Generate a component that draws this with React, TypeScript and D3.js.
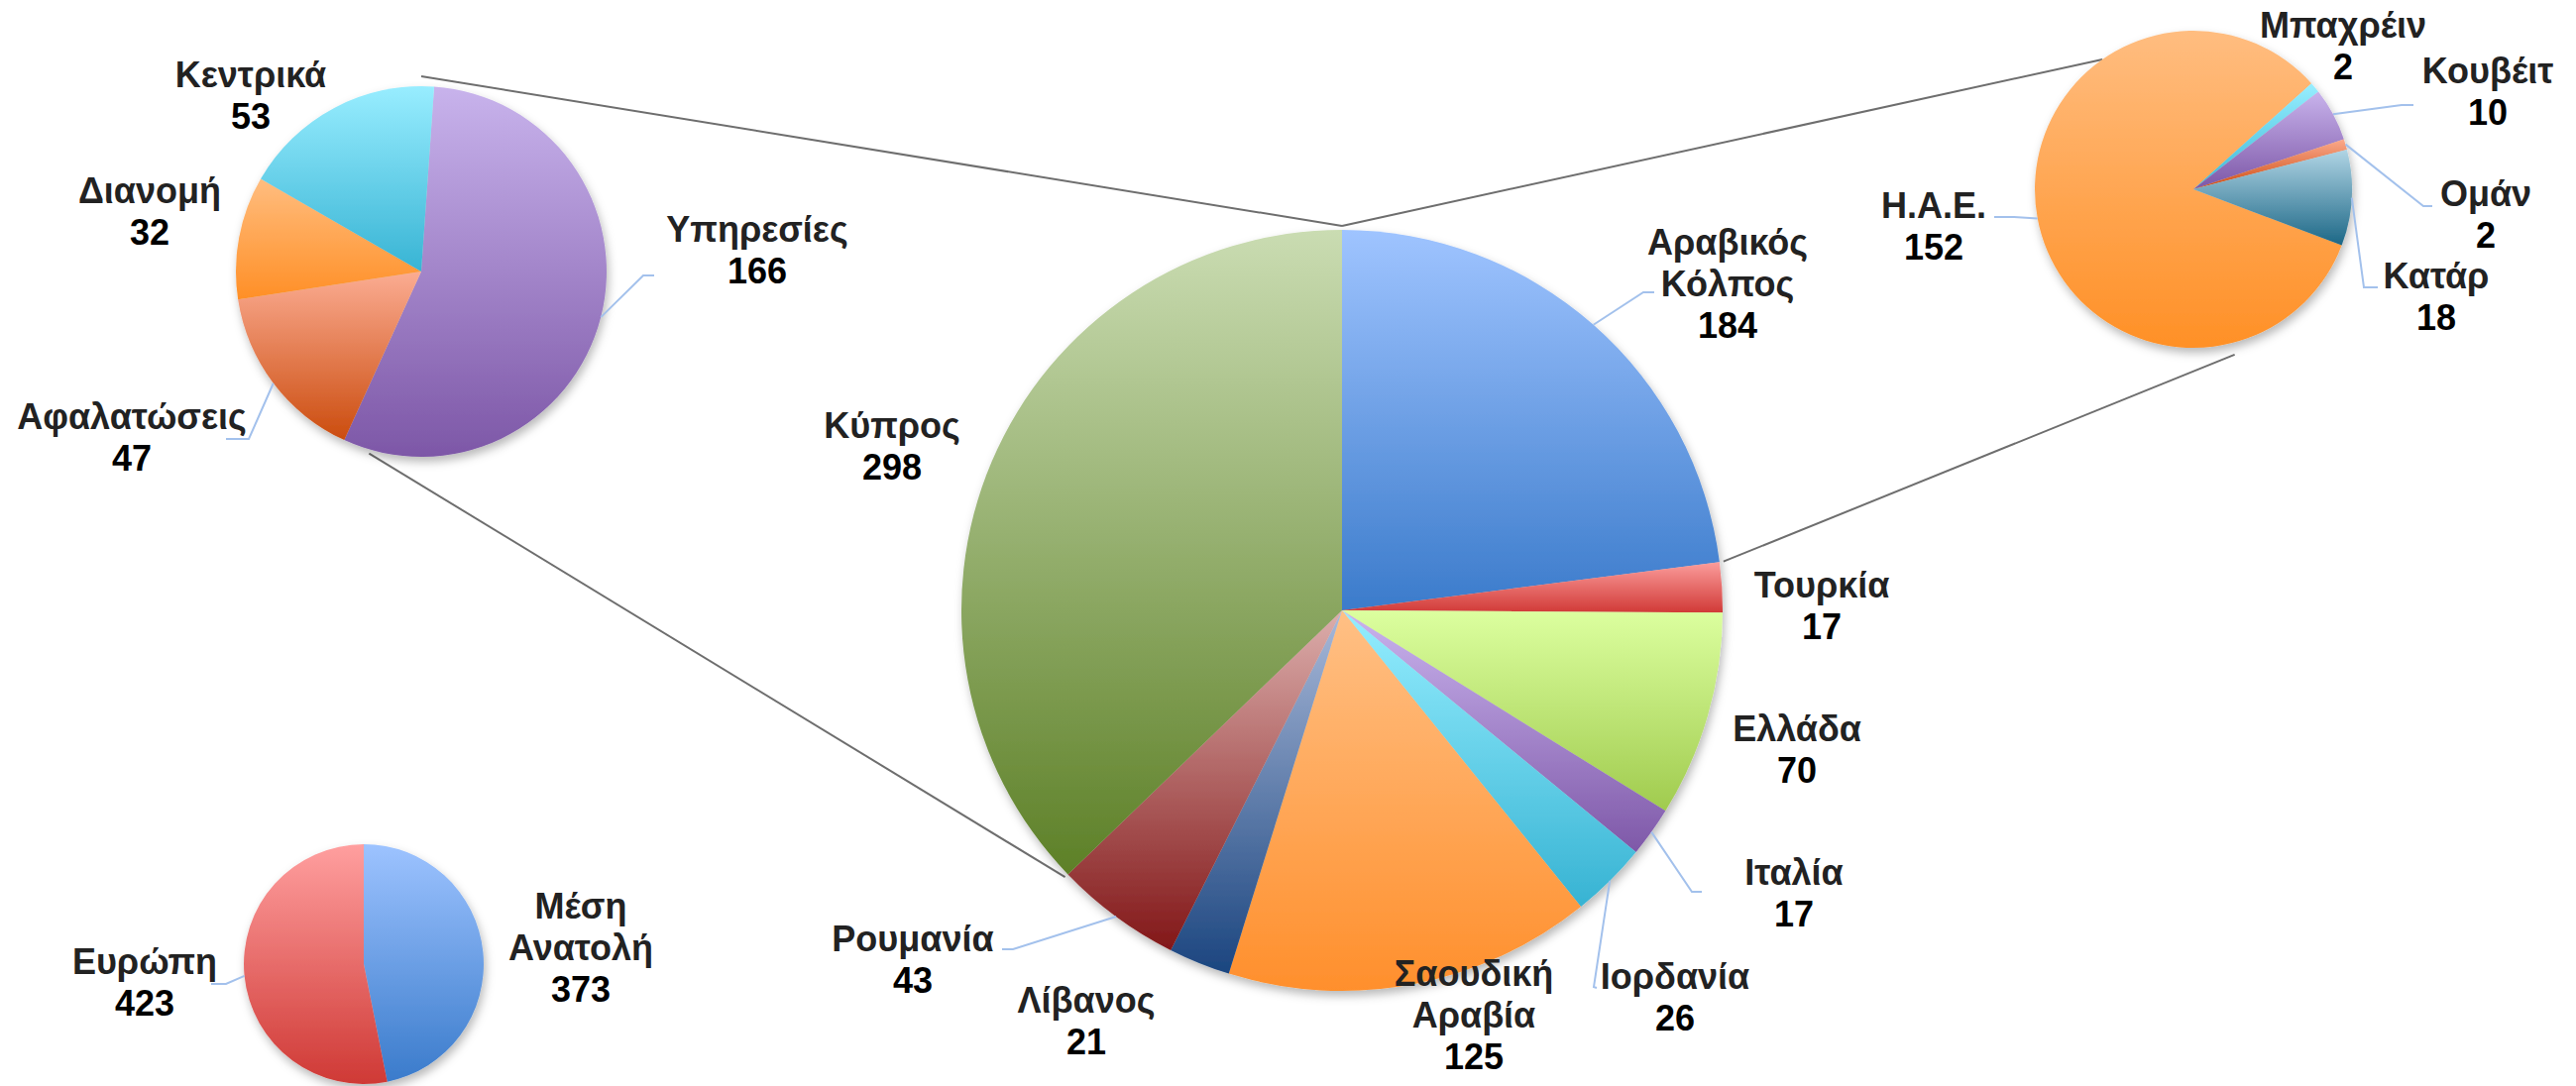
import React from 'react';
import * as d3 from 'd3';

// values
const mainCategories = ['Αραβικός Κόλπος', 'Τουρκία', 'Ελλάδα', 'Ιταλία', 'Ιορδανία', 'Σαουδική Αραβία', 'Λίβανος', 'Ρουμανία', 'Κύπρος'];
const mainValues = [184, 17, 70, 17, 26, 125, 21, 43, 298];

const cyprusCategories = ['Υπηρεσίες', 'Αφαλατώσεις', 'Διανομή', 'Κεντρικά'];
const cyprusValues = [166, 47, 32, 53];

const gulfCategories = ['Η.Α.Ε.', 'Μπαχρέιν', 'Κουβέιτ', 'Ομάν', 'Κατάρ'];
const gulfValues = [152, 2, 10, 2, 18];

const regionCategories = ['Μέση Ανατολή', 'Ευρώπη'];
const regionValues = [373, 423];

// gradient colours (top, bottom) per slice
const mainColors = [
  ['#9fc4ff', '#3b7bcb'], ['#fb9d9c', '#d13a37'], ['#dcff9f', '#a0cb4e'],
  ['#cab4ee', '#7e58a8'], ['#95eeff', '#37b3d3'], ['#ffc085', '#ff8f2c'],
  ['#a9b9d9', '#1b457f'], ['#dcaeac', '#821718'], ['#cadcb2', '#5d8027'],
];
const cyprusColors = [['#c8b3ec', '#7d57a7'], ['#fbac92', '#cb4c0e'], ['#ffbd7f', '#ff8f26'], ['#98edff', '#38b4d4']];
const gulfColors = [['#ffbd80', '#ff9026'], ['#98eeff', '#3ab8d6'], ['#c8b3ec', '#7d57a7'], ['#fba98b', '#cd4d14'], ['#b1d5e5', '#1c6786']];
const regionColors = [['#9dc3ff', '#3a7bcb'], ['#ff9f9f', '#cf3935']];

const deg = Math.PI / 180;

const pies = {
  main: { cx: 1354, cy: 616, r: 384, start: 0 },
  cyprus: { cx: 425, cy: 274, r: 187, start: 4 * deg },
  gulf: { cx: 2213, cy: 191, r: 160, start: 110.7 * deg },
  region: { cx: 367, cy: 973, r: 121, start: 0 },
};

// label placement: centre x, first baseline, optional leader elbow + end
const labelLayout = {
  'Αραβικός Κόλπος': { x: 1743, y: 257, leader: [[1658, 295], [1669, 295]] },
  'Τουρκία': { x: 1838, y: 603 },
  'Ελλάδα': { x: 1813, y: 748 },
  'Ιταλία': { x: 1810, y: 893, leader: [[1707, 900], [1717, 900]] },
  'Ιορδανία': { x: 1690, y: 998, leader: [[1608, 996], [1611, 997]] },
  'Σαουδική Αραβία': { x: 1487, y: 995 },
  'Λίβανος': { x: 1096, y: 1022 },
  'Ρουμανία': { x: 921, y: 960, leader: [[1022, 958], [1011, 958]] },
  'Κύπρος': { x: 900, y: 442 },
  'Υπηρεσίες': { x: 764, y: 244, leader: [[649, 278], [660, 278]] },
  'Αφαλατώσεις': { x: 133, y: 433, leader: [[251, 443], [228, 443]] },
  'Διανομή': { x: 151, y: 205 },
  'Κεντρικά': { x: 253, y: 88 },
  'Η.Α.Ε.': { x: 1951, y: 220, leader: [[2032, 219], [2012, 219]] },
  'Μπαχρέιν': { x: 2364, y: 38 },
  'Κουβέιτ': { x: 2510, y: 84, leader: [[2423, 106], [2435, 106]] },
  'Ομάν': { x: 2508, y: 208, leader: [[2445, 208], [2454, 208]] },
  'Κατάρ': { x: 2458, y: 291, leader: [[2385, 290], [2399, 290]] },
  'Μέση Ανατολή': { x: 586, y: 927 },
  'Ευρώπη': { x: 146, y: 983, leader: [[228, 993], [213, 993]] },
};

const lineHeight = 42;
const fontFamily = 'Arial, "Liberation Sans", Helvetica, sans-serif';

const polar = (p, r, a) => [p.cx + r * Math.sin(a), p.cy - r * Math.cos(a)];

function layoutPie(key, categories, values) {
  const p = pies[key];
  const pie = d3.pie<number>().sort(null).value(d => d)
    .startAngle(p.start).endAngle(p.start + 2 * Math.PI);
  return pie(values).map((a, i) => ({ ...a, name: categories[i] }));
}

function PieGroup({ id, arcs, colors }) {
  const p = pies[id];
  const arc = d3.arc().innerRadius(0).outerRadius(p.r);
  return (
    <g>
      <defs>
        {arcs.map((a, i) => (
          <linearGradient key={i} id={`${id}-g${i}`} x1="0" y1="0" x2="0" y2="1">
            <stop offset="0" stopColor={colors[i][0]} />
            <stop offset="1" stopColor={colors[i][1]} />
          </linearGradient>
        ))}
      </defs>
      <g transform={`translate(${p.cx},${p.cy})`} filter="url(#shadow)">
        {arcs.map((a, i) => (
          <path key={i} d={arc(a as any) as string} fill={`url(#${id}-g${i})`} />
        ))}
      </g>
    </g>
  );
}

function Labels({ id, arcs }) {
  const p = pies[id];
  return (
    <g>
      {arcs.map((a, i) => {
        const lay = labelLayout[a.name];
        const lines = a.name.split(' ');
        const mid = (a.startAngle + a.endAngle) / 2;
        let leader = null;
        if (lay.leader) {
          const s = polar(p, p.r, mid);
          const pts = [s, ...lay.leader];
          leader = (
            <polyline points={pts.map(q => q.join(',')).join(' ')} fill="none" stroke="#a3c1ec" strokeWidth={2} />
          );
        }
        return (
          <g key={i}>
            {leader}
            <text x={lay.x} y={lay.y} textAnchor="middle" fontFamily={fontFamily} fontWeight="bold" fontSize={36}>
              {lines.map((l, j) => (
                <tspan key={j} x={lay.x} y={lay.y + j * lineHeight} fill="#222">{l}</tspan>
              ))}
              <tspan x={lay.x} y={lay.y + lines.length * lineHeight} fill="#000">{a.data}</tspan>
            </text>
          </g>
        );
      })}
    </g>
  );
}

export default function App() {
  const mainArcs = layoutPie('main', mainCategories, mainValues);
  const cyprusArcs = layoutPie('cyprus', cyprusCategories, cyprusValues);
  const gulfArcs = layoutPie('gulf', gulfCategories, gulfValues);
  const regionArcs = layoutPie('region', regionCategories, regionValues);

  const M = pies.main;
  const gulfArc = mainArcs[0];
  const cyprusArc = mainArcs[mainArcs.length - 1];
  const mainTop = polar(M, M.r + 4, cyprusArc.endAngle);
  const connectors = [
    [polar(pies.cyprus, pies.cyprus.r + 10, 0), mainTop],
    [polar(pies.cyprus, pies.cyprus.r + 4, 196 * deg), polar(M, M.r + 4, cyprusArc.startAngle)],
    [polar(pies.gulf, pies.gulf.r, 325 * deg), mainTop],
    [polar(pies.gulf, pies.gulf.r + 12, 166 * deg), polar(M, M.r + 4, gulfArc.endAngle)],
  ];

  return (
    <svg width={2599} height={1096} style={{ position: 'absolute', left: 0, top: 0, display: 'block', background: '#fff' }}>
      <defs>
        <filter id="shadow" x="-20%" y="-20%" width="140%" height="140%">
          <feDropShadow dx="2" dy="5" stdDeviation="5" floodColor="#000" floodOpacity="0.28" />
        </filter>
      </defs>
      <rect width={2599} height={1096} fill="#fff" />
      {connectors.map((c, i) => (
        <line key={i} x1={c[0][0]} y1={c[0][1]} x2={c[1][0]} y2={c[1][1]} stroke="#6e6e6e" strokeWidth={2} />
      ))}
      <PieGroup id="main" arcs={mainArcs} colors={mainColors} />
      <PieGroup id="cyprus" arcs={cyprusArcs} colors={cyprusColors} />
      <PieGroup id="gulf" arcs={gulfArcs} colors={gulfColors} />
      <PieGroup id="region" arcs={regionArcs} colors={regionColors} />
      <Labels id="main" arcs={mainArcs} />
      <Labels id="cyprus" arcs={cyprusArcs} />
      <Labels id="gulf" arcs={gulfArcs} />
      <Labels id="region" arcs={regionArcs} />
    </svg>
  );
}
